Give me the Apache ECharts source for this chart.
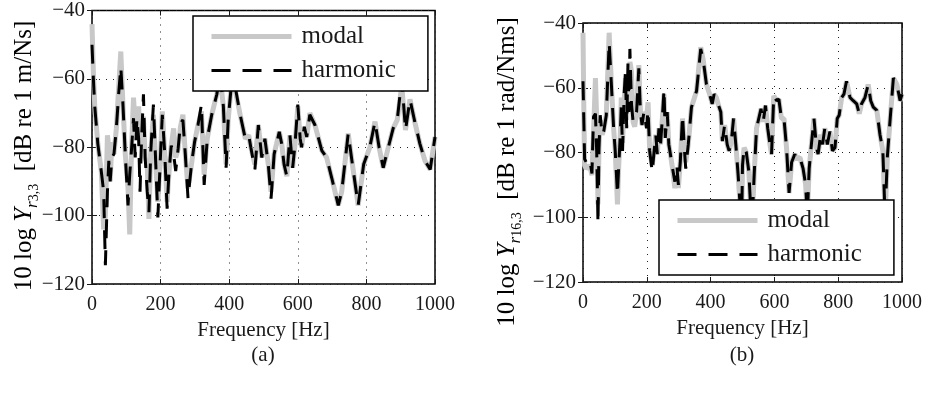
<!DOCTYPE html>
<html>
<head>
<meta charset="utf-8">
<script src="https://cdn.jsdelivr.net/npm/echarts@6/dist/echarts.min.js"></script>
<style>
  html, body { margin: 0; padding: 0; background: #fff; }
  #chart { width: 925px; height: 399px; }
</style>
</head>
<body>
<div id="chart"></div>
<script>
// (a) point mobility Y_r3,3 — frequency [Hz] and level [dB re 1 m/Ns]
const freqA = [0, 4, 8, 17, 27, 34, 39, 45, 49, 53, 58, 64, 71, 78, 84, 90, 97, 105, 110, 115,
  121, 126, 131, 136, 140, 144, 150, 155, 161, 166, 171, 179, 186, 192, 199, 205, 212, 219, 224, 231,
  238, 244, 251, 258, 265, 272, 280, 290, 299, 309, 319, 327, 336, 349, 364, 373, 383, 391, 397, 407,
  417, 432, 447, 457, 463, 475, 485, 495, 504, 514, 522, 531, 538, 546, 553, 560, 568, 577, 585, 592,
  600, 607, 611, 619, 626, 635, 650, 670, 684, 699, 718, 728, 747, 762, 776, 792, 810, 825, 837, 849,
  864, 878, 890, 903, 914, 927, 942, 956, 971, 986, 1000];
const modalA = [-44, -58, -68, -79, -87, -104, -100, -76.5, -80, -90, -78.5, -82, -74.5, -62, -52, -67, -82, -92, -105.5, -81,
  -65.5, -74, -72, -68, -80, -74, -71, -83, -85, -101, -82, -70.5, -85, -96, -84, -69.5, -81.5, -96, -88, -79.5,
  -74.5, -83, -80.5, -74, -70.5, -82, -92, -85, -78.5, -73.5, -69.5, -88, -77.5, -70.5, -64.5, -59, -68, -85, -72, -61,
  -63, -70.5, -77.5, -76.5, -80, -85, -73.5, -83, -77.5, -85, -93, -82, -79, -75.5, -79, -85, -88.5, -76.5, -86, -79,
  -68, -77.5, -80, -74, -77, -70, -73.5, -81, -83, -89, -97, -93, -76, -87, -97, -85, -80, -72.5, -80, -86,
  -80, -74.5, -72, -62, -75, -66, -73, -79, -84, -86.5, -77];
const harmonicA = [-50, -60, -68, -79, -87, -93, -114.5, -93, -84, -90, -83, -82, -74.5, -64, -56.5, -67, -82, -97, -88, -81,
  -71.5, -83, -71.5, -77.5, -93, -79, -64.5, -83, -93, -99, -82, -67.5, -85, -100.5, -84, -70.5, -81.5, -98, -88, -79.5,
  -82, -87, -80.5, -73, -72, -82, -95, -85, -78.5, -73.5, -67.5, -91, -77.5, -70.5, -64.5, -58, -68, -86, -72, -61,
  -62, -70.5, -77.5, -76.5, -80, -86.5, -73.5, -83, -77.5, -85, -95, -82, -79, -75.5, -79, -85, -88.5, -76.5, -86, -79,
  -67.5, -77.5, -80, -74, -77, -70.5, -73.5, -81, -83, -89, -97, -93, -76, -87, -97, -85, -80, -72.5, -80, -86,
  -80, -74.5, -72, -60, -75, -66, -73, -79, -84, -86.5, -77];

// (b) transfer mobility Y_r16,3 — frequency [Hz] and level [dB re 1 rad/Nms]
const freqB = [0, 3, 5, 10, 21, 28, 33, 39, 43, 47, 50, 54, 60, 65, 73, 82, 89, 96, 101, 108,
  112, 117, 120, 124, 129, 133, 137, 141, 144, 147, 152, 157, 162, 168, 175, 180, 185, 191, 199, 204,
  209, 217, 223, 228, 233, 238, 243, 248, 254, 258, 264, 269, 274, 280, 288, 294, 299, 305, 312, 317,
  322, 330, 340, 356, 369, 377, 387, 397, 405, 411, 418, 425, 432, 437, 444, 452, 458, 465, 472, 479,
  486, 491, 497, 500, 505, 512, 520, 529, 537, 544, 551, 558, 565, 572, 579, 586, 591, 598, 607, 614,
  622, 630, 638, 646, 654, 664, 669, 680, 690, 698, 703, 709, 716, 724, 732, 737, 745, 751, 758, 766,
  774, 782, 790, 797, 803, 811, 818, 826, 837, 847, 858, 866, 873, 884, 894, 902, 910, 921, 931, 940,
  947, 954, 963, 973, 984, 994, 1000];
const modalB = [-43, -70, -84, -85, -84, -87, -74, -57, -70, -96, -79, -70, -74.5, -73, -68.5, -43, -59, -72.5, -79.5, -96,
  -84, -74.5, -63, -77, -64, -57, -70, -58, -63, -52, -55, -70.5, -72, -67.5, -53, -67.5, -71.5, -67.5, -69.5, -64.5,
  -79.5, -84, -79.5, -74.5, -80.5, -72.5, -77.5, -70.5, -62, -75.5, -67.5, -77.5, -80.5, -84.5, -91, -86, -91, -83, -69.5, -77.5,
  -83, -77.5, -66, -61, -47.5, -51.5, -59, -62, -65, -62, -63, -65.5, -67.5, -76.5, -71.5, -77.5, -79.5, -76.5, -69.5, -77.5,
  -86.5, -94, -104, -84, -78.5, -80, -86, -104, -86, -72.5, -69.5, -66.5, -70.5, -65.5, -72.5, -77.5, -80.5, -62.5, -64, -63.5,
  -69.5, -69.5, -78.5, -92.5, -83, -80.5, -82, -81.5, -85, -90, -100, -85, -77.5, -69.5, -78.5, -80.5, -74.5, -77.5, -72.5, -77.5,
  -73.5, -79.5, -78.5, -69.5, -68.5, -63, -62, -58, -63, -64, -65, -68, -65, -63, -59, -64, -66, -67, -74.5, -79.5,
  -100, -81.5, -69.5, -57, -59, -64, -62];
const harmonicB = [-58, -72, -82, -83, -82, -86.5, -69, -68, -80, -102, -79, -68.5, -74.5, -73.5, -68.5, -46, -59, -72.5, -79.5, -93,
  -84, -74.5, -65.5, -79.5, -62, -55, -72.5, -52, -67.5, -48, -65, -70.5, -69.5, -67.5, -54, -67.5, -71.5, -67.5, -72.5, -67,
  -79.5, -86, -79.5, -74.5, -80.5, -72.5, -77.5, -70.5, -60.5, -75.5, -67.5, -77.5, -80.5, -84.5, -89, -84, -90, -83, -68.5, -77.5,
  -85, -77.5, -66, -61, -48, -51.5, -59, -62, -65, -62, -63, -65.5, -67.5, -76.5, -71.5, -77.5, -79.5, -76.5, -69.5, -77.5,
  -86.5, -94, -104, -84, -78.5, -80, -86, -104, -86, -72.5, -69.5, -66.5, -70.5, -65.5, -72.5, -77.5, -80.5, -62.5, -64, -63.5,
  -69.5, -69.5, -78.5, -92.5, -83, -80.5, -82, -81.5, -85, -90, -100, -85, -77.5, -69.5, -78.5, -80.5, -74.5, -77.5, -72.5, -77.5,
  -73.5, -79.5, -78.5, -69.5, -68.5, -63, -62, -58, -63, -64, -65, -68, -65, -63, -59, -64, -66, -67, -74.5, -79.5,
  -100, -81.5, -69.5, -57, -59, -64, -62];

const freqTicks = [0, 200, 400, 600, 800, 1000];
const levelTicks = [-120, -100, -80, -60, -40];

const SERIF = '"Liberation Serif", "Times New Roman", serif';
const INK = '#1a1a1a';
const GREY = '#c8c8c8';

const pairs = (xs, ys) => xs.map((x, i) => [x, ys[i]]);
const minus = v => String(v).replace('-', '\u2212');

function xAxes(gridIndex) {
  const base = {
    type: 'value', gridIndex,
    min: freqTicks[0], max: freqTicks[freqTicks.length - 1], interval: 200,
    axisLine: { show: false },
    axisTick: { show: true, inside: true, length: 5, lineStyle: { color: INK, width: 1 } }
  };
  return [
    Object.assign({}, base, {
      position: 'bottom',
      axisLabel: { fontFamily: SERIF, fontSize: 20, color: INK, margin: 11, formatter: minus },
      splitLine: { show: true, lineStyle: { color: '#222', width: 1, type: [1, 6] } },
      name: 'Frequency [Hz]', nameLocation: 'middle', nameGap: 36,
      nameTextStyle: { fontFamily: SERIF, fontSize: 21, color: INK }
    }),
    Object.assign({}, base, { position: 'top', axisLabel: { show: false }, splitLine: { show: false } })
  ];
}

function yAxes(gridIndex) {
  const base = {
    type: 'value', gridIndex,
    min: levelTicks[0], max: levelTicks[levelTicks.length - 1], interval: 20,
    axisLine: { show: false },
    axisTick: { show: true, inside: true, length: 5, lineStyle: { color: INK, width: 1 } }
  };
  return [
    Object.assign({}, base, {
      position: 'left',
      axisLabel: { fontFamily: SERIF, fontSize: 21, color: INK, margin: 7, formatter: minus },
      splitLine: { show: true, lineStyle: { color: '#222', width: 1, type: [1, 6] } }
    }),
    Object.assign({}, base, { position: 'right', axisLabel: { show: false }, splitLine: { show: false } })
  ];
}

function seriesPair(axisIndex, freq, modal, harmonic) {
  return [
    {
      name: 'modal', type: 'line', xAxisIndex: axisIndex, yAxisIndex: axisIndex,
      data: pairs(freq, modal), symbol: 'none', showSymbol: false, animation: false,
      lineStyle: { color: GREY, width: 5 }, itemStyle: { color: GREY }, z: 2
    },
    {
      name: 'harmonic', type: 'line', xAxisIndex: axisIndex, yAxisIndex: axisIndex,
      data: pairs(freq, harmonic), symbol: 'none', showSymbol: false, animation: false,
      lineStyle: { color: '#000', width: 3, type: [19, 12] }, itemStyle: { color: '#000' }, z: 3
    }
  ];
}

function legendBox(left, top) {
  return {
    orient: 'vertical', left, top,
    data: ['modal', 'harmonic'],
    itemWidth: 80, itemHeight: 26, itemGap: 9,
    padding: [8, 32, 8, 16],
    backgroundColor: '#fff', borderColor: '#000', borderWidth: 1.5, borderRadius: 0,
    selectedMode: false,
    itemStyle: { opacity: 0, borderWidth: 0 },
    lineStyle: { width: 'inherit' },
    textStyle: { fontFamily: SERIF, fontSize: 25, color: INK, padding: [0, 0, 0, 5] },
    z: 10
  };
}

function yTitle(x, y, sub) {
  return {
    type: 'text', x, y, rotation: Math.PI / 2, silent: true,
    style: {
      text: '{a|10 log }{b|Y}{c|r}{d|' + sub.idx + '}{a|  [dB re 1 ' + sub.unit + ']}',
      align: 'center', verticalAlign: 'middle',
      rich: {
        a: { fontFamily: SERIF, fontSize: 25, color: INK, lineHeight: 34, verticalAlign: 'middle' },
        b: { fontFamily: SERIF, fontSize: 25, fontStyle: 'italic', color: INK, lineHeight: 34, verticalAlign: 'middle' },
        c: { fontFamily: SERIF, fontSize: 17, fontStyle: 'italic', color: INK, lineHeight: 18, verticalAlign: 'bottom' },
        d: { fontFamily: SERIF, fontSize: 14, color: INK, lineHeight: 11, verticalAlign: 'bottom' }
      }
    }
  };
}

function caption(x, y, text) {
  return {
    type: 'text', x, y, silent: true,
    style: { text, fontFamily: SERIF, fontSize: 21, fill: INK, align: 'center', verticalAlign: 'middle' }
  };
}

const chart = echarts.init(document.getElementById('chart'), null, { renderer: 'canvas' });
chart.setOption({
  animation: false,
  backgroundColor: '#fff',
  grid: [
    { left: 92, top: 10, width: 343, height: 274, show: true, borderColor: '#000', borderWidth: 1.5, backgroundColor: 'transparent' },
    { left: 583, top: 23, width: 319, height: 259, show: true, borderColor: '#000', borderWidth: 1.5, backgroundColor: 'transparent' }
  ],
  xAxis: [].concat(xAxes(0), xAxes(1)),
  yAxis: [].concat(yAxes(0), yAxes(1)),
  legend: [legendBox(193, 16), legendBox(659, 200)],
  series: [].concat(
    seriesPair(0, freqA, modalA, harmonicA),
    seriesPair(2, freqB, modalB, harmonicB)
  ),
  graphic: [
    yTitle(24, 156, { idx: '3,3', unit: 'm/Ns' }),
    yTitle(507, 172, { idx: '16,3', unit: 'rad/Nms' }),
    caption(263, 355, '(a)'),
    caption(742, 355, '(b)')
  ]
});
</script>
</body>
</html>
